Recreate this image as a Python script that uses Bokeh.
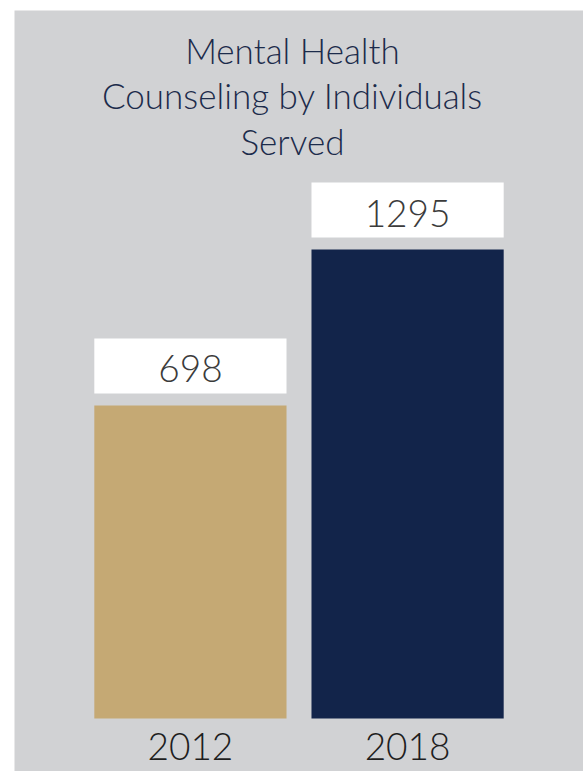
from bokeh.plotting import figure
from bokeh.models import ColumnDataSource, FactorRange, Range1d, LabelSet, Label
from bokeh.core.properties import value
from bokeh.embed import file_html
from bokeh.resources import INLINE

# ---- data ----
years = ["2012", "2018"]
counts = [698, 1295]
bar_colors = ["#c5a974", "#12244a"]
title_lines = ["Mental Health", "Counseling by Individuals", "Served"]

# ---- style ----
BG = "#d1d2d4"
FONT_NAME = "Lato Light"
Y_START, Y_END = -703, 2210      # value range of the frame (top to bottom of grey area)
BASELINE = -500                  # value at which bars start
FRAME_H = 761
UPP = (Y_END - Y_START) / FRAME_H  # data units per pixel

src = ColumnDataSource(dict(
    year=years,
    count=counts,
    color=bar_colors,
    box_y=[c + 39.5 * UPP for c in counts],
    lab_y=[c + 23 * UPP for c in counts],
    lab=[str(c) for c in counts],
))

p = figure(
    width=583, height=771,
    x_range=FactorRange(factors=years, range_padding=0.31),
    y_range=Range1d(Y_START, Y_END),
    x_axis_type=None, y_axis_type=None,
    output_backend="svg", toolbar_location=None,
    min_border_left=14, min_border_top=10, min_border_right=0, min_border_bottom=0,
)
p.title.visible = False
p.grid.visible = False
p.outline_line_color = None
p.background_fill_color = BG
p.border_fill_color = "white"

p.vbar(x="year", top="count", bottom=BASELINE, width=0.885, color="color",
       line_color=None, source=src)
p.rect(x="year", y="box_y", width=0.885, height=55, height_units="screen",
       fill_color="white", line_color=None, source=src)

p.add_layout(LabelSet(x="year", y="lab_y", text="lab", source=src,
                      text_align="center", text_baseline="alphabetic",
                      text_font=value(FONT_NAME), text_font_size="37px", text_color="#3b3b3b"))

p.add_layout(LabelSet(x="year", y=12, y_units="screen", text="year", source=src,
                      text_align="center", text_baseline="alphabetic",
                      text_font=value(FONT_NAME), text_font_size="37px", text_color="#1e1e1e"))

p.add_layout(Label(x=278, y=743, x_units="screen", y_units="screen",
                   text="\n".join(title_lines), text_align="center", text_baseline="top",
                   text_font=FONT_NAME, text_font_size="35px", text_color="#1c2b4b",
                   text_line_height=1.09))

open("out.html", "w").write(file_html(p, INLINE))
